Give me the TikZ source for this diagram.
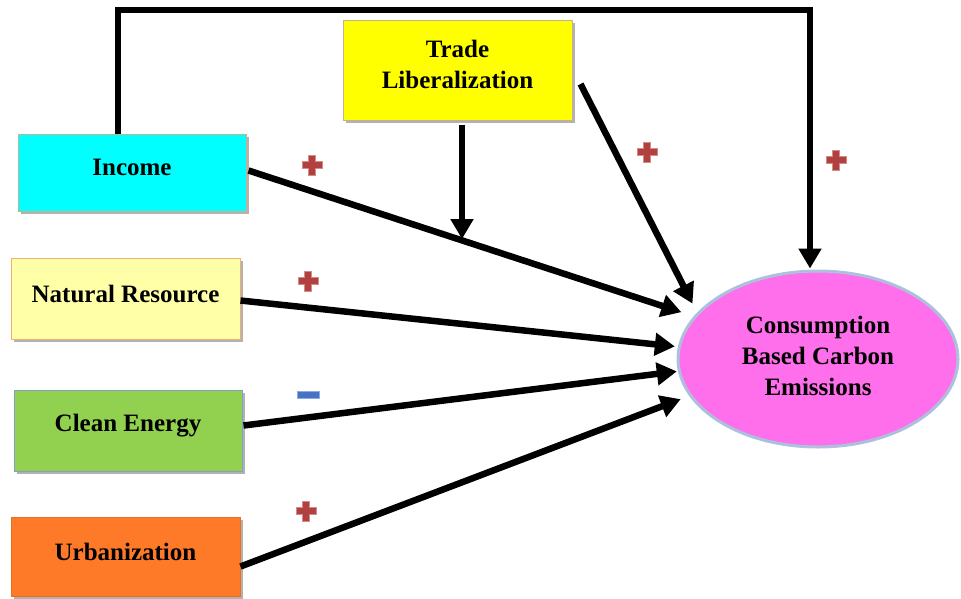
\documentclass[tikz,border=0pt]{standalone}
\usepackage{fontspec}
\setmainfont{Liberation Serif}
\usetikzlibrary{shapes.geometric,shadows,arrows.meta,calc}
\definecolor{cyanbox}{HTML}{00FFFF}
\definecolor{yellowbox}{HTML}{FFFF00}
\definecolor{natbox}{HTML}{FFFFA8}
\definecolor{greenbox}{HTML}{92D050}
\definecolor{orangebox}{HTML}{FF7A28}
\definecolor{pinkell}{HTML}{FF6EEB}
\definecolor{ellborder}{HTML}{A8C6E8}
\definecolor{pluscol}{HTML}{B2403F}
\definecolor{minuscol}{HTML}{4472C4}
\definecolor{tanborder}{HTML}{C8B08C}
\definecolor{natborder}{HTML}{F0B070}
\definecolor{greenborder}{HTML}{7FA0C8}
\definecolor{orangeborder}{HTML}{E87020}
\tikzset{
  txt/.style={align=center, font=\fontsize{25}{31}\selectfont\bfseries, inner sep=0pt},
  box/.style={rectangle, minimum width=228pt, minimum height=78pt, line width=1pt,
    drop shadow={shadow xshift=3pt, shadow yshift=-3pt, fill=black, opacity=0.3}},
  arr/.style={line width=6.5pt, -{Triangle[length=20pt,width=22pt]}},
  plusmark/.pic={
    \filldraw[fill=pluscol, draw=pluscol!60!white, line width=0.8pt]
      (-3.5,-10) -- (3.5,-10) -- (3.5,-3.5) -- (10,-3.5) -- (10,3.5) -- (3.5,3.5)
      -- (3.5,10) -- (-3.5,10) -- (-3.5,3.5) -- (-10,3.5) -- (-10,-3.5) -- (-3.5,-3.5) -- cycle;
  },
  minusmark/.pic={
    \filldraw[fill=minuscol, draw=minuscol!60!white, line width=0.8pt]
      (-11,-3.5) rectangle (11,3.5);
  }
}
\begin{document}
\begin{tikzpicture}[x=1pt,y=-1pt]
\path[use as bounding box] (0,0) rectangle (961,598);

\node[box, fill=yellowbox, draw=tanborder, minimum width=229pt, minimum height=100pt,
  label={[txt,yshift=6pt]center:{Trade\\Liberalization}}] (tra) at (457.5,70) {};
\node[box, fill=cyanbox, draw=tanborder, minimum height=77pt,
  label={[txt,yshift=5pt]center:Income}] (inc) at (132,172.5) {};
\node[box, fill=natbox, draw=natborder, minimum width=229pt, minimum height=81pt,
  label={[txt,yshift=5pt]center:Natural Resource}] (nat) at (125.5,298.5) {};
\node[box, fill=greenbox, draw=greenborder, minimum height=81pt,
  label={[txt,yshift=5pt]center:Clean Energy}] (cle) at (128,430.5) {};
\node[box, fill=orangebox, draw=orangeborder, minimum width=229pt, minimum height=79pt,
  label={[txt,yshift=5pt]center:Urbanization}] (urb) at (125.5,556.5) {};

\node[ellipse, fill=pinkell, draw=ellborder, line width=3pt, minimum width=280pt, minimum height=176pt,
  postaction={draw=gray!55, line width=0.6pt},
  label={[txt,yshift=3pt]center:{Consumption\\Based Carbon\\Emissions}}] (ell) at (818,359) {};

\coordinate (tl) at (118,10);
\coordinate (tr) at (810,10);
\coordinate (mid) at (462,239);

\draw[arr] ([xshift=-14pt]inc.north) -- (tl) -- (tr) -- ($(tr |- ell.north)+(0,-1)$);
\draw[arr, shorten >=13pt] ([xshift=2pt,yshift=2pt]inc.east) -- (ell.161);
\draw[arr] ([xshift=4.5pt,yshift=-4pt]tra.south) -- (mid);
\draw[arr, shorten >=10pt] ([xshift=8pt,yshift=-14pt]tra.east) -- (ell.159.5);
\draw[arr, shorten >=3pt] ([yshift=-2pt]nat.east) -- (ell.175.6);
\draw[arr, shorten >=1pt] ([xshift=1pt,yshift=5pt]cle.east) -- (ell.185.4);
\draw[arr, shorten >=9pt] ([yshift=-10pt]urb.east) -- (ell.196.6);

\pic at (312,165) {plusmark};
\pic at (308,281) {plusmark};
\pic at (647,152) {plusmark};
\pic at (836,160) {plusmark};
\pic at (306,511) {plusmark};
\pic at (308,395) {minusmark};
\end{tikzpicture}
\end{document}
